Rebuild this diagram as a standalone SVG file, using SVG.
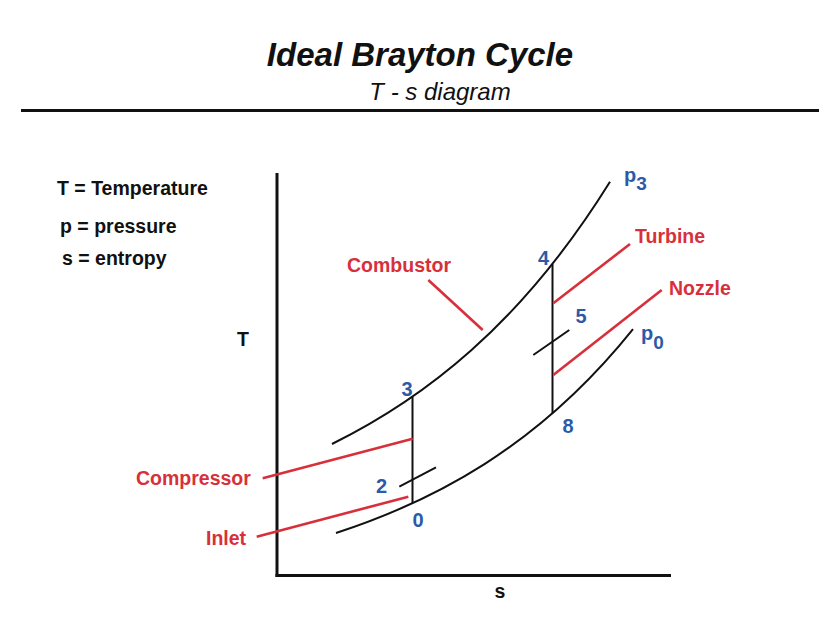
<svg xmlns="http://www.w3.org/2000/svg" width="840" height="628" viewBox="0 0 840 628">
<defs>
<style>
.t{font-family:"Liberation Sans",Arial,sans-serif;}
.blk{fill:#111;font-weight:bold;font-size:19.5px;}
.red{fill:#d8303b;font-weight:bold;font-size:19.5px;}
.blu{fill:#2c5aa8;font-weight:bold;font-size:20px;}
.ax{stroke:#111;stroke-width:3;fill:none;}
.cv{stroke:#111;stroke-width:2;fill:none;}
.rl{stroke:#d8303b;stroke-width:2.6;fill:none;}
</style>
</defs>
<rect width="840" height="628" fill="#ffffff"/>
<g id="title">
<text class="t" x="420" y="66" text-anchor="middle" font-size="33" font-weight="bold" font-style="italic" fill="#111">Ideal Brayton Cycle</text>
<text class="t" x="440" y="100" text-anchor="middle" font-size="24" font-style="italic" fill="#111">T - s diagram</text>
<line x1="21" y1="110.5" x2="819" y2="110.5" stroke="#111" stroke-width="3"/>
</g>
<g id="legend">
<text class="t blk" x="57" y="195">T = Temperature</text>
<text class="t blk" x="60" y="233">p = pressure</text>
<text class="t blk" x="62" y="265">s = entropy</text>
</g>
<g id="axes">
<line class="ax" x1="277" y1="173" x2="277" y2="577"/>
<line class="ax" x1="275.5" y1="575.5" x2="671" y2="575.5"/>
<text class="t blk" x="243" y="346" text-anchor="middle">T</text>
<text class="t blk" x="500" y="598" text-anchor="middle">s</text>
</g>
<g id="connectors">
<path id="isobar-p3" class="cv" d="M332,444 C378.33,421.15 424.67,391.8 471,350.55 C517.33,309.3 563.67,256.29 610,181.8"/>
<path id="isobar-p0" class="cv" d="M336,533 C385.5,516.88 435,495.62 484.5,464.06 C534,432.5 583.5,390.89 633,329.12"/>
<line id="compression" class="cv" x1="412.5" y1="397" x2="412.5" y2="503.2"/>
<line id="expansion" class="cv" x1="552.5" y1="264" x2="552.5" y2="413.3"/>
<line id="tick2" class="cv" x1="399.3" y1="486.7" x2="436" y2="467.3"/>
<line id="tick5" class="cv" x1="533.3" y1="355" x2="569.3" y2="330"/>
<line class="rl" x1="262.7" y1="478.3" x2="412.7" y2="438.7"/>
<line class="rl" x1="256.7" y1="536.7" x2="408.3" y2="496.7"/>
<line class="rl" x1="428.3" y1="280" x2="482.7" y2="330"/>
<line class="rl" x1="553.3" y1="303.3" x2="630" y2="244"/>
<line class="rl" x1="553.3" y1="375" x2="661.7" y2="290"/>
</g>
<g id="labels-red">
<text class="t red" x="347" y="272">Combustor</text>
<text class="t red" x="635" y="243">Turbine</text>
<text class="t red" x="669" y="295">Nozzle</text>
<text class="t red" x="136" y="485">Compressor</text>
<text class="t red" x="206" y="545">Inlet</text>
</g>
<g id="labels-blue">
<text class="t blu" x="407" y="396" text-anchor="middle">3</text>
<text class="t blu" x="381.5" y="493" text-anchor="middle">2</text>
<text class="t blu" x="418" y="527" text-anchor="middle">0</text>
<text class="t blu" x="543.5" y="265" text-anchor="middle">4</text>
<text class="t blu" x="581" y="323" text-anchor="middle">5</text>
<text class="t blu" x="568" y="433" text-anchor="middle">8</text>
<text class="t blu" x="624" y="182" font-size="22">p<tspan font-size="19" dy="8">3</tspan></text>
<text class="t blu" x="641" y="340" font-size="22">p<tspan font-size="19" dy="9">0</tspan></text>
</g>
</svg>
